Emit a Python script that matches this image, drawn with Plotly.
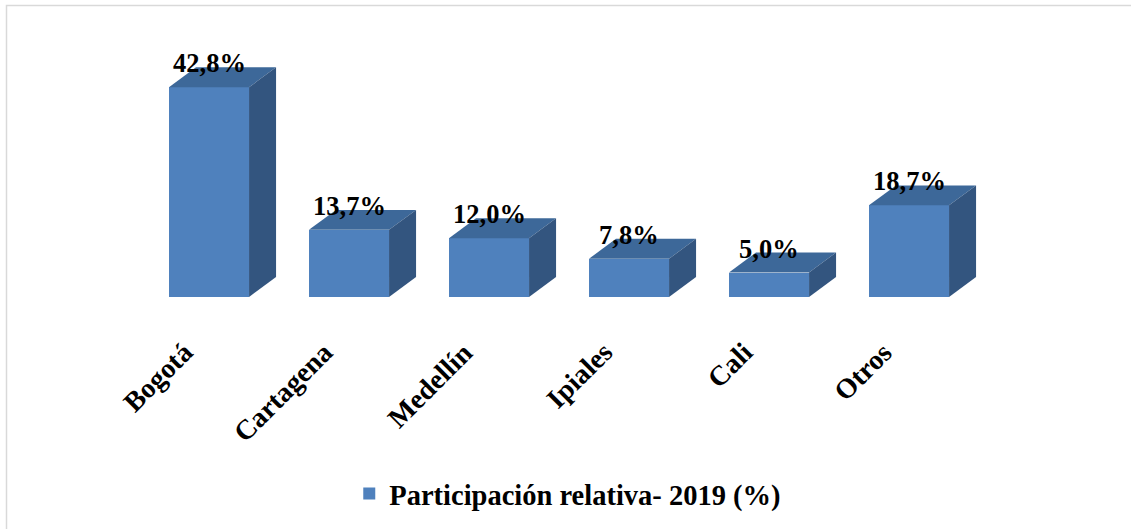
import plotly.graph_objects as go

# data
cities = ["Bogotá", "Cartagena", "Medellín", "Ipiales", "Cali", "Otros"]
shares = [42.8, 13.7, 12.0, 7.8, 5.0, 18.7]
value_labels = ["42,8%", "13,7%", "12,0%", "7,8%", "5,0%", "18,7%"]
series_name = "Participación relativa- 2019 (%)"

front = "#4F81BD"
top_col = "#3D6899"
side_col = "#33557F"
font_name = "Liberation Serif"

# fake 3D depth in data units
half_w = 0.286
dx = 0.193
dy = 4.08

x = list(range(len(cities)))

fig = go.Figure()
fig.add_trace(go.Bar(x=x, y=shares, width=2 * half_w, marker=dict(color=front, line=dict(width=0)),
                     name=series_name, showlegend=True))

for i, v in zip(x, shares):
    # top face
    fig.add_trace(go.Scatter(
        x=[i - half_w, i + half_w, i + half_w + dx, i - half_w + dx, i - half_w],
        y=[v, v, v + dy, v + dy, v],
        fill="toself", fillcolor=top_col, mode="lines", line=dict(width=0),
        hoverinfo="skip", showlegend=False))
    # right side face
    fig.add_trace(go.Scatter(
        x=[i + half_w, i + half_w + dx, i + half_w + dx, i + half_w, i + half_w],
        y=[0, dy, v + dy, v, 0],
        fill="toself", fillcolor=side_col, mode="lines", line=dict(width=0),
        hoverinfo="skip", showlegend=False))

# value labels
for i, v, t in zip(x, shares, value_labels):
    fig.add_annotation(x=i, y=v, text=t, showarrow=False, yshift=24, yanchor="middle",
                       font=dict(family=font_name, size=26.5, color="black", weight="bold"))

# rotated category labels
for i, c in zip(x, cities):
    fig.add_annotation(x=i, y=0, text=c, showarrow=False, textangle=-45,
                       xanchor="right", yanchor="top", xshift=-8, yshift=-37,
                       font=dict(family=font_name, size=28, color="black", weight="bold"))

# outer frame (light gray, runs off right/bottom)
L, W, T, H = 97, 910, 40, 257
fig.add_shape(type="rect", xref="paper", yref="paper",
              x0=(6.5 - L) / W, x1=(1140 - L) / W,
              y0=(T + H - 540) / H, y1=(T + H - 5.5) / H,
              line=dict(color="#D9D9D9", width=1.5), fillcolor="rgba(0,0,0,0)", layer="below")

fig.update_layout(
    width=1131, height=529,
    margin=dict(l=L, r=1131 - L - W, t=T, b=529 - T - H),
    plot_bgcolor="white", paper_bgcolor="white",
    showlegend=True,
    legend=dict(orientation="h", xref="container", yref="container",
                x=0.502, xanchor="center", y=0.066, yanchor="middle",
                font=dict(family=font_name, size=28.5, color="black", weight="bold")),
    xaxis=dict(range=[-0.8, 5.7], showticklabels=False, showgrid=False, zeroline=False,
               showline=False, ticks=""),
    yaxis=dict(range=[0, 52.45], showticklabels=False, showgrid=False, zeroline=False,
               showline=False, ticks=""),
    bargap=0,
)

fig.write_html("out.html", config={"displayModeBar": False},
               post_script="document.body.style.margin='0';")
